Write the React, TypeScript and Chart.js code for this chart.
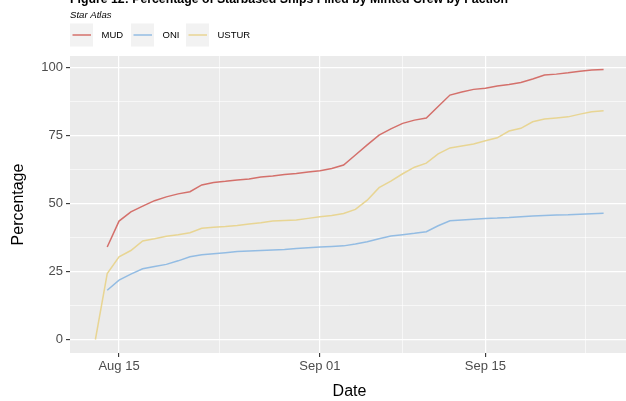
import React, { useEffect, useRef } from 'react';
import { Chart, registerables } from 'chart.js';

Chart.register(...registerables);

const titleText = 'Figure 12: Percentage of Starbased Ships Filled by Minted Crew by Faction';
const subtitleText = 'Star Atlas';
const xAxisTitle = 'Date';
const yAxisTitle = 'Percentage';

const factions = ['MUD', 'ONI', 'USTUR'];
const factionColors = ['#D4706B', '#93BCE3', '#E8D593'];

const dates = [
  'Aug 13', 'Aug 14', 'Aug 15', 'Aug 16', 'Aug 17', 'Aug 18', 'Aug 19', 'Aug 20', 'Aug 21', 'Aug 22',
  'Aug 23', 'Aug 24', 'Aug 25', 'Aug 26', 'Aug 27', 'Aug 28', 'Aug 29', 'Aug 30', 'Aug 31', 'Sep 01',
  'Sep 02', 'Sep 03', 'Sep 04', 'Sep 05', 'Sep 06', 'Sep 07', 'Sep 08', 'Sep 09', 'Sep 10', 'Sep 11',
  'Sep 12', 'Sep 13', 'Sep 14', 'Sep 15', 'Sep 16', 'Sep 17', 'Sep 18', 'Sep 19', 'Sep 20', 'Sep 21',
  'Sep 22', 'Sep 23', 'Sep 24', 'Sep 25',
];

const mud = [
  null, 34.0, 43.5, 46.9, 49.0, 51.0, 52.4, 53.5, 54.3, 56.8,
  57.7, 58.1, 58.6, 59.0, 59.7, 60.1, 60.6, 61.0, 61.5, 62.0,
  62.8, 64.1, 67.8, 71.5, 75.1, 77.4, 79.4, 80.6, 81.4, 85.6,
  89.8, 90.9, 91.9, 92.3, 93.1, 93.7, 94.4, 95.7, 97.2, 97.5,
  98.0, 98.6, 99.0, 99.2,
];

const oni = [
  null, 18.1, 21.8, 24.0, 26.0, 26.8, 27.6, 28.9, 30.4, 31.1,
  31.5, 31.9, 32.3, 32.5, 32.7, 32.9, 33.1, 33.4, 33.7, 34.0,
  34.2, 34.4, 35.1, 35.9, 37.0, 38.0, 38.5, 39.0, 39.6, 41.8,
  43.6, 43.9, 44.2, 44.5, 44.6, 44.8, 45.1, 45.4, 45.6, 45.7,
  45.8, 46.0, 46.2, 46.4,
];

const ustur = [
  0, 24.2, 30.4, 32.7, 36.2, 37.0, 37.9, 38.5, 39.2, 40.9,
  41.2, 41.5, 41.9, 42.4, 42.9, 43.5, 43.7, 43.9, 44.5, 45.1,
  45.6, 46.3, 47.8, 51.2, 55.8, 58.2, 60.9, 63.3, 64.8, 68.2,
  70.4, 71.1, 71.8, 73.0, 74.1, 76.6, 77.6, 80.0, 81.0, 81.4,
  81.8, 82.8, 83.7, 84.0,
];

const seriesValues = [mud, oni, ustur];

const xTickLabels = ['Aug 15', 'Sep 01', 'Sep 15'];
const xMinorBreaks = [8.5, 24, 39.5]; // days after Aug 15
const yTickValues = [0, 25, 50, 75, 100];
const yMinorBreaks = [12.5, 37.5, 62.5, 87.5];

// days relative to Aug 15
function dayIndex(label: string): number {
  const [mon, d] = label.split(' ');
  const offset = mon === 'Sep' ? 31 : 0;
  return offset + parseFloat(d) - 15;
}

const FONT = '"Liberation Sans", Arial, Helvetica, sans-serif';

export default function App() {
  const ref = useRef<HTMLCanvasElement | null>(null);

  useEffect(() => {
    const canvas = ref.current;
    if (!canvas) return;

    const xs = dates.map(dayIndex);
    const xMajor = xTickLabels.map(dayIndex);
    const allVals = seriesValues.flat().filter((v) => v !== null) as number[];
    const yLo = Math.min(...allVals);
    const yHi = Math.max(...allVals);
    const yPad = (yHi - yLo) * 0.05;
    const xLo = Math.min(...xs);
    const xHi = Math.max(...xs);
    const xPad = (xHi - xLo) * 0.05;

    const decor = {
      id: 'decor',
      beforeDraw(chart: any) {
        const { ctx, chartArea } = chart;
        ctx.save();
        ctx.fillStyle = '#FFFFFF';
        ctx.fillRect(0, 0, chart.width, chart.height);
        ctx.fillStyle = '#EBEBEB';
        ctx.fillRect(chartArea.left, chartArea.top, chartArea.right - chartArea.left, chartArea.bottom - chartArea.top);
        ctx.restore();
      },
      afterDraw(chart: any) {
        const { ctx, chartArea } = chart;
        ctx.save();
        // title (cut at top)
        ctx.fillStyle = '#000000';
        ctx.font = `bold 12.3px ${FONT}`;
        ctx.textAlign = 'left';
        ctx.textBaseline = 'alphabetic';
        ctx.fillText(titleText, 70, 3);
        // subtitle
        ctx.font = `italic 9.6px ${FONT}`;
        ctx.textBaseline = 'middle';
        ctx.fillText(subtitleText, 70, 15);
        // legend
        const keyX = [70, 131, 186];
        factions.forEach((name, i) => {
          const kx = keyX[i];
          ctx.fillStyle = '#F2F2F2';
          ctx.fillRect(kx, 23.5, 23, 23);
          ctx.strokeStyle = factionColors[i];
          ctx.lineWidth = 1.5;
          ctx.beginPath();
          ctx.moveTo(kx + 2.5, 35);
          ctx.lineTo(kx + 21, 35);
          ctx.stroke();
          ctx.fillStyle = '#000000';
          ctx.font = `9.5px ${FONT}`;
          ctx.textBaseline = 'middle';
          ctx.fillText(name, kx + 31.5, 35.5);
        });
        // axis titles
        ctx.font = `16px ${FONT}`;
        ctx.fillStyle = '#000000';
        ctx.textAlign = 'center';
        ctx.textBaseline = 'middle';
        ctx.fillText(xAxisTitle, (chartArea.left + chartArea.right) / 2, 391.5);
        ctx.translate(18.5, (chartArea.top + chartArea.bottom) / 2);
        ctx.rotate(-Math.PI / 2);
        ctx.fillText(yAxisTitle, 0, 0);
        ctx.restore();
      },
    };

    const isMajorX = (v: number) => xMajor.some((m) => Math.abs(m - v) < 1e-6);
    const isMajorY = (v: number) => yTickValues.some((m) => Math.abs(m - v) < 1e-6);

    const chart = new Chart(canvas, {
      type: 'line',
      data: {
        datasets: factions.map((name, i) => ({
          label: name,
          data: xs
            .map((x, j) => ({ x, y: seriesValues[i][j] }))
            .filter((p) => p.y !== null) as any,
          borderColor: factionColors[i],
          backgroundColor: factionColors[i],
          borderWidth: 1.5,
          pointRadius: 0,
          pointHoverRadius: 0,
          tension: 0,
          fill: false,
        })),
      },
      options: {
        animation: false,
        responsive: false,
        devicePixelRatio: 1,
        events: [],
        layout: { padding: { top: 56, left: 0, right: 3, bottom: 0 } },
        plugins: {
          legend: { display: false },
          tooltip: { enabled: false },
          title: { display: false },
        },
        scales: {
          x: {
            type: 'linear',
            min: xLo - xPad,
            max: xHi + xPad,
            border: { display: false },
            afterBuildTicks: (scale: any) => {
              const vals = [...xMajor, ...xMinorBreaks].sort((a, b) => a - b);
              scale.ticks = vals.map((v) => ({ value: v }));
            },
            afterFit: (scale: any) => {
              scale.height = 48;
              scale.paddingLeft = 0;
              scale.paddingRight = 0;
            },
            grid: {
              color: '#FFFFFF',
              lineWidth: (c: any) => (isMajorX(c.tick.value) ? 1.2 : 0.6),
              tickColor: (c: any) => (isMajorX(c.tick.value) ? '#333333' : 'rgba(0,0,0,0)'),
              tickWidth: 1.1,
              tickLength: 4,
              drawTicks: true,
            },
            ticks: {
              autoSkip: false,
              maxRotation: 0,
              minRotation: 0,
              padding: 2,
              color: '#4D4D4D',
              font: { family: FONT, size: 13 },
              callback: (v: any) => {
                const idx = xMajor.findIndex((m) => Math.abs(m - Number(v)) < 1e-6);
                return idx >= 0 ? xTickLabels[idx] : '';
              },
            },
          },
          y: {
            type: 'linear',
            min: yLo - yPad,
            max: yHi + yPad,
            border: { display: false },
            afterBuildTicks: (scale: any) => {
              const vals = [...yTickValues, ...yMinorBreaks].sort((a, b) => a - b);
              scale.ticks = vals.map((v) => ({ value: v }));
            },
            afterFit: (scale: any) => {
              scale.width = 70;
              scale.paddingTop = 0;
              scale.paddingBottom = 0;
            },
            grid: {
              color: '#FFFFFF',
              lineWidth: (c: any) => (isMajorY(c.tick.value) ? 1.2 : 0.6),
              tickColor: (c: any) => (isMajorY(c.tick.value) ? '#333333' : 'rgba(0,0,0,0)'),
              tickWidth: 1.1,
              tickLength: 4,
              drawTicks: true,
            },
            ticks: {
              autoSkip: false,
              padding: 3,
              color: '#4D4D4D',
              font: { family: FONT, size: 13 },
              callback: (v: any) => (isMajorY(Number(v)) ? String(v) : ''),
            },
          },
        },
      },
      plugins: [decor],
    });

    return () => chart.destroy();
  }, []);

  return (
    <div
      style={{
        position: 'fixed',
        left: 0,
        top: 0,
        width: 626,
        height: 401,
        overflow: 'hidden',
        background: '#FFFFFF',
      }}
    >
      <canvas ref={ref} width={632} height={401} style={{ display: 'block', width: 632, height: 401 }} />
    </div>
  );
}
